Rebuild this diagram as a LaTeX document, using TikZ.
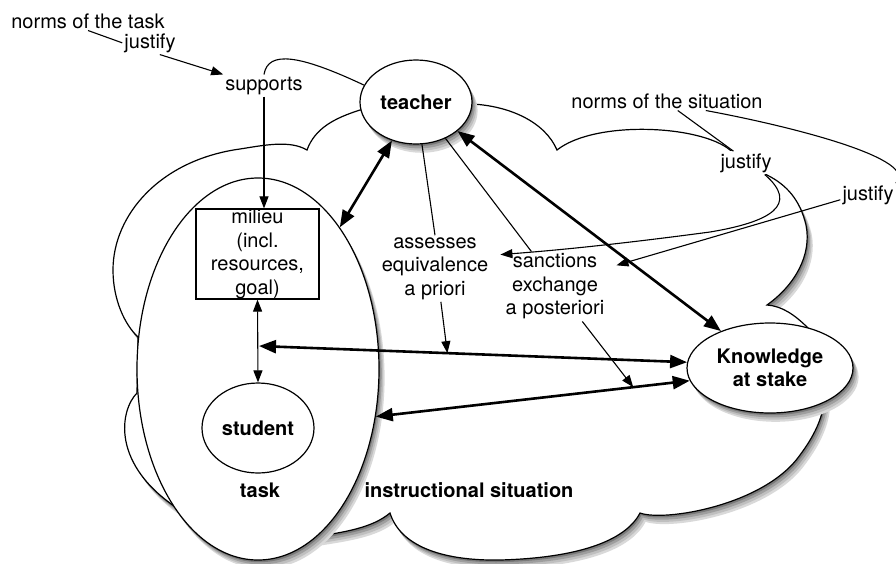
\documentclass[tikz,border=0pt]{standalone}
\usepackage{fontspec}
\setmainfont{TeX Gyre Heros}
\usetikzlibrary{shapes.geometric, arrows.meta}

% outline of the instructional situation
\newcommand{\cloudshape}{
    (360,110) .. controls (335,118) and (315,128) .. (307,150)
    .. controls (290,140) and (265,145) .. (240,149)
    .. controls (160,160) and (113,215) .. (113,270)
    .. controls (113,300) and (125,325) .. (138,337)
    -- (137,393)
    .. controls (120,410) and (110,465) .. (180,510)
    -- (313,537)
    .. controls (345,532) and (372,528) .. (390,513)
    .. controls (400,545) and (440,561) .. (500,560)
    .. controls (575,558) and (625,542) .. (640,513)
    .. controls (665,522) and (765,505) .. (800,455)
    .. controls (815,435) and (822,418) .. (824,403)
    -- (808,328)
    .. controls (795,315) and (782,306) .. (767,305)
    .. controls (795,285) and (812,255) .. (806,225)
    .. controls (800,200) and (787,185) .. (767,175)
    -- (730,150)
    .. controls (700,125) and (595,120) .. (557,150)
    .. controls (545,122) and (510,106) .. (472,104)
    -- cycle}

\begin{document}
\begin{tikzpicture}[
        x=1pt, y=-1pt,
        every node/.style={font=\fontsize{20}{23.5}\selectfont, inner sep=2pt},
        heavy/.style={font=\fontsize{20}{23.5}\selectfont\bfseries},
        bubble/.style={ellipse, draw, line width=1.2pt, fill=white, inner sep=0pt},
        link/.style={line width=1.1pt},
        push/.style={line width=1.1pt, -{Triangle[length=12pt, width=9pt]}},
        twoway/.style={line width=1.1pt, {Triangle[length=12pt, width=9pt]}-{Triangle[length=12pt, width=9pt]}},
        strong/.style={line width=2.6pt, {Triangle[length=17pt, width=13pt]}-{Triangle[length=17pt, width=13pt]}}
    ]

    \useasboundingbox (0,0) rectangle (896,563);

    % Cloud with its shadow
    \foreach \k/\g in {4/15, 3/25, 2/38, 1/52}
        \fill[black!\g, xshift=1.4*\k pt, yshift=-2.2*\k pt] \cloudshape;
    \draw[line width=1.2pt, fill=white] \cloudshape;

    % Shadows of the ellipses
    \foreach \k/\g in {4/15, 3/25, 2/38, 1/52} {
        \fill[black!\g] (258+1.4*\k,369+2.2*\k) ellipse [x radius=121, y radius=191];
        \fill[black!\g] (416+1.4*\k,102+2.2*\k) ellipse [x radius=56, y radius=42];
        \fill[black!\g] (770+1.4*\k,368+2.2*\k) ellipse [x radius=83, y radius=45];
    }

    % Task
    \node[bubble, minimum width=242, minimum height=382] (task) at (258,369) {};
    \node[draw, line width=1.2pt, fill=white, inner sep=0pt, align=center,
          minimum width=123, minimum height=90] (milieu) at (257.5,254)
          {milieu\\(incl.\\resources,\\goal)};
    \node[bubble, heavy, minimum width=112, minimum height=90] (student) at (258,428) {student};
    \node[heavy, anchor=base] (tasklbl) at (260,497) {task};
    \node[heavy, anchor=base] (situation) at (469,497) {instructional situation};

    % Teacher and knowledge
    \node[bubble, heavy, minimum width=112, minimum height=84] (teacher) at (416,102) {teacher};
    \node[bubble, heavy, align=center, minimum width=166, minimum height=90] (know) at (770,368) {Knowledge\\at stake};

    % Labels
    \node[anchor=base] (normstask) at (88,28) {norms of the task};
    \node[anchor=base] (justifyT) at (150,48) {justify};
    \node[anchor=base] (supports) at (264,90) {supports};
    \node[anchor=base] (normssit) at (667,108) {norms of the situation};
    \node[anchor=base, fill=white] (justifyA) at (746,168) {justify};
    \node[anchor=base] (justifyB) at (868,200) {justify};
    \node[align=center, inner xsep=12pt] (assesses) at (435,268.5) {assesses\\equivalence\\a priori};
    \node[align=center, inner xsep=12pt] (sanctions) at (555,286.5) {sanctions\\exchange\\a posteriori};

    % Main arrows
    \coordinate (hub) at (259,346);
    \draw[strong] (hub) -- coordinate[pos=.44] (apriori) (know.176);
    \draw[strong] (task.-22) -- coordinate[pos=.82] (apost) (know.189);
    \draw[strong] (teacher.238) -- (task.60);
    \draw[strong] (teacher.-35) -- (know.143);
    \draw[twoway] (milieu.south) -- (student.north);

    % Teacher actions
    \draw[link] (teacher.278) -- (assesses.north);
    \draw[push] (assesses.-80) -- (apriori);
    \draw[link] (teacher.309) -- (sanctions.124);
    \draw[push] (sanctions.-52) -- (apost);
    \draw[link] (supports.north) .. controls (268,50) and (300,55) .. (teacher.162);
    \draw[push] (supports.south) -- (supports.south |- milieu.north);

    % Norms
    \draw[link] (normstask.south) -- (justifyT.west);
    \draw[push] (justifyT.-50) -- (supports.north west);
    \draw[link] (normssit.-42) -- (justifyA.137);
    \draw[link] (normssit.-14) .. controls (800,128) and (920,160) .. (justifyB.north east);
    \draw[push] (justifyA.-32) .. controls (800,205) and (770,222) .. (710,232)
        .. controls (620,244) and (560,250) .. (assesses.12);
    \draw[push] (justifyB.190) -- (sanctions.19);

\end{tikzpicture}
\end{document}
